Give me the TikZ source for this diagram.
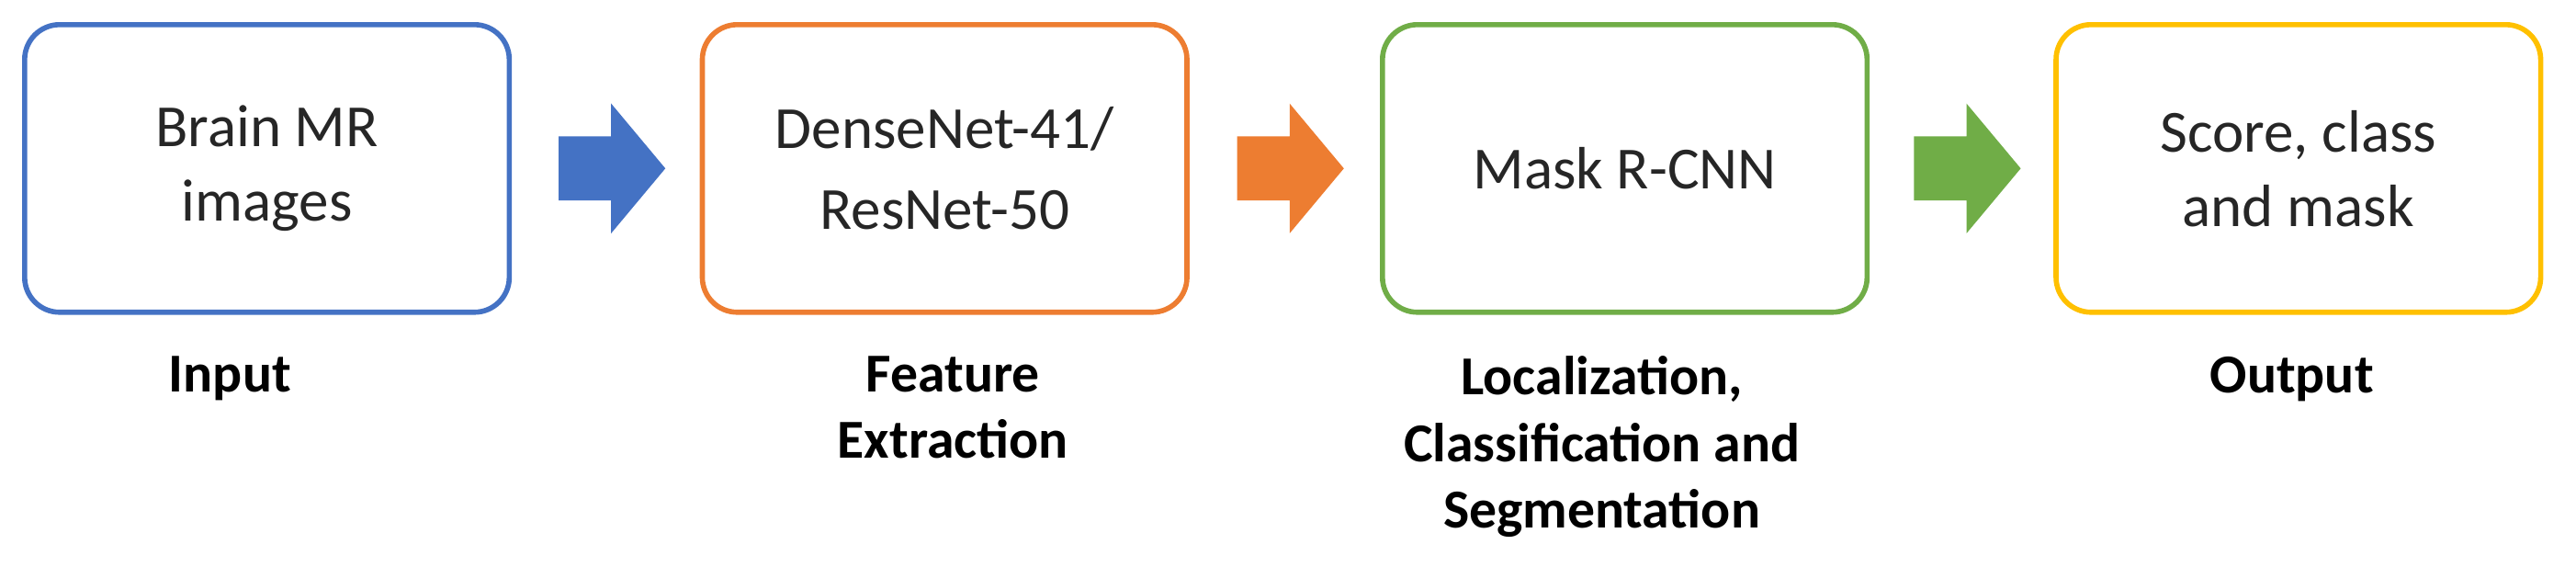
\documentclass[tikz,border=0pt]{standalone}
\usepackage{fontspec}
\setmainfont{Carlito}
\definecolor{cb}{HTML}{4472C4}
\definecolor{co}{HTML}{ED7D31}
\definecolor{cg}{HTML}{70AD47}
\definecolor{cy}{HTML}{FFC000}
\begin{document}
\begin{tikzpicture}[x=0.01788cm,y=-0.01788cm,
 box/.style={draw=#1,line width=1.6pt,rounded corners=0.38cm,minimum width=295*0.01788cm,minimum height=175*0.01788cm,align=center,font=\fontsize{18.5}{23}\selectfont,text=black!85},
 lab/.style={font=\bfseries\fontsize{17}{20.5}\selectfont,align=center,anchor=north},
 arr/.style={fill=#1,draw=none}]
\useasboundingbox (0,0) rectangle (1568,344.5);
\node[box=cb] (b1) at (162.5,102.5) {Brain MR\\images};
\node[box=co] (b2) at (575,102.5) {DenseNet-41/\\[2pt]ResNet-50};
\node[box=cg] (b3) at (989,102.5) {Mask R-CNN};
\node[box=cy] (b4) at (1399,102.5) {Score, class\\and mask};
\node[lab] (l1) at (140,210) {Input};
\node[lab] (l2) at (580,210) {Feature\\Extraction};
\node[lab] (l3) at (975,210) {Localization,\\Classification and\\Segmentation};
\node[lab] (l4) at (1395,210) {Output};
\foreach \x/\c/\n in {340/cb/a1,753/co/a2,1165/cg/a3}{
 \fill[\c] (\x,83) -- (\x+32,83) -- (\x+32,63) -- (\x+65,102.5) -- (\x+32,142) -- (\x+32,122) -- (\x,122) -- cycle;
}
\end{tikzpicture}
\end{document}
